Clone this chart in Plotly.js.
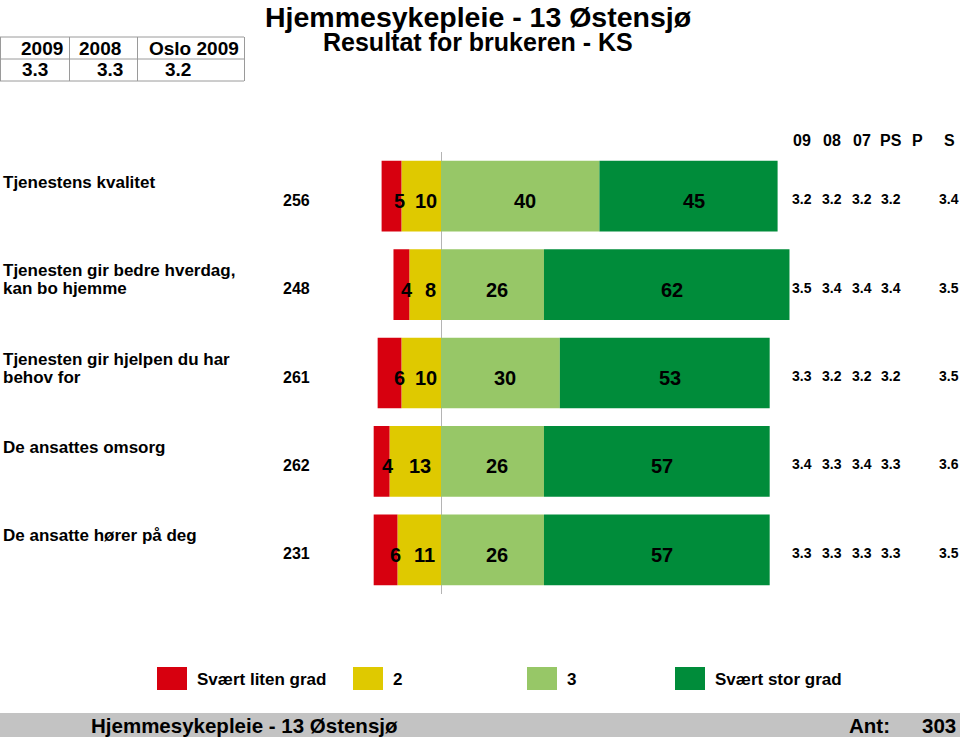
<!DOCTYPE html>
<html>
<head>
<meta charset="utf-8">
<script src="https://cdn.plot.ly/plotly-3.0.1.min.js"></script>
<style>
  body { margin: 0; background: #fff; }
  #chart { width: 960px; height: 737px; }
</style>
</head>
<body>
<div id="chart"></div>
<script>
// rows from top to bottom
var questions = ['Tjenestens kvalitet', 'Tjenesten gir bedre hverdag,<br>kan bo hjemme', 'Tjenesten gir hjelpen du har<br>behov for', 'De ansattes omsorg', 'De ansatte hører på deg'];
var answerCount = [256, 248, 261, 262, 231];

// percent for each answer level
var pctVeryLow = [5, 4, 6, 4, 6];
var pct2 = [10, 8, 10, 13, 11];
var pct3 = [40, 26, 30, 26, 26];
var pctVeryHigh = [45, 62, 53, 57, 57];
var legendNames = ['Svært liten grad', '2', '3', 'Svært stor grad'];

// averages shown in the columns to the right
var colHeaders = ['09', '08', '07', 'PS', 'P', 'S'];
var avg09 = ['3.2', '3.5', '3.3', '3.4', '3.3'];
var avg08 = ['3.2', '3.4', '3.2', '3.3', '3.3'];
var avg07 = ['3.2', '3.4', '3.2', '3.4', '3.3'];
var avgPS = ['3.2', '3.4', '3.2', '3.3', '3.3'];
var avgP = ['', '', '', '', ''];
var avgS = ['3.4', '3.5', '3.5', '3.6', '3.5'];

// little table in the top left corner
var tableHeaders = ['2009', '2008', 'Oslo 2009'];
var tableValues = ['3.3', '3.3', '3.2'];

var titleLine1 = 'Hjemmesykepleie - 13 Østensjø';
var titleLine2 = 'Resultat for brukeren - KS';
var footerName = 'Hjemmesykepleie - 13 Østensjø';
var totalAnt = 303;

var colors = ['#d7000f', '#dfc900', '#97c767', '#008c3a'];

// figure is 960x737 with no margins, so paper coords map straight to pixels
var W = 960, H = 737;
function px(x) { return x / W; }
function py(y) { return 1 - y / H; }

var FONT = 'Liberation Sans, Arial, Helvetica, sans-serif';
function txt(size) { return { family: FONT, size: size, color: '#000', weight: 'bold' }; }

var rows = questions.map(function (q, i) { return i; });

// negatives stack outward in trace order, so the yellow one goes first
function barTrace(vals, sign, color, name) {
    return {
        type: 'bar',
        orientation: 'h',
        name: name,
        x: vals.map(function (v) { return sign * v; }),
        y: rows,
        marker: { color: color, line: { width: 0 } },
        hoverinfo: 'skip',
        showlegend: false
    };
}

var data = [
    barTrace(pct2, -1, colors[1], legendNames[1]),
    barTrace(pctVeryLow, -1, colors[0], legendNames[0]),
    barTrace(pct3, 1, colors[2], legendNames[2]),
    barTrace(pctVeryHigh, 1, colors[3], legendNames[3])
];

var annotations = [];
function addNote(o) {
    o.showarrow = false;
    annotations.push(o);
}

// numbers on the bars
rows.forEach(function (i) {
    var segs = [
        { x: -pct2[i], t: pctVeryLow[i], dx: -2 },
        { x: -pct2[i] / 2, t: pct2[i], dx: 5 },
        { x: pct3[i] / 2, t: pct3[i], dx: 5 },
        { x: pct3[i] + pctVeryHigh[i] / 2, t: pctVeryHigh[i], dx: 5 }
    ];
    segs.forEach(function (s) {
        addNote({ xref: 'x', yref: 'y', x: s.x, y: i, text: String(s.t), xshift: s.dx, yshift: -5,
            font: txt(20), xanchor: 'center', yanchor: 'middle' });
    });

    // question text, one annotation per line to keep the lines tight
    questions[i].split('<br>').forEach(function (line, j) {
        addNote({ xref: 'paper', yref: 'y', x: px(1), y: i, text: line, xanchor: 'left', yanchor: 'middle',
            yshift: 14 - j * 18, font: txt(17) });
    });

    // number of answers
    addNote({ xref: 'paper', yref: 'y', x: px(312), y: i, text: String(answerCount[i]), xanchor: 'right',
        yanchor: 'middle', yshift: -4, font: txt(16) });
});

// columns on the right
var colX = [802, 832, 862, 891, 917, 949];
var columns = [avg09, avg08, avg07, avgPS, avgP, avgS];
colHeaders.forEach(function (h, c) {
    addNote({ xref: 'paper', yref: 'paper', x: px(colX[c]), y: py(140), text: h, xanchor: 'center',
        yanchor: 'middle', font: txt(16) });
    columns[c].forEach(function (v, i) {
        if (v === '') return;
        addNote({ xref: 'paper', yref: 'y', x: px(colX[c]), y: i, text: v, xanchor: 'center',
            yanchor: 'middle', yshift: -3, font: txt(14) });
    });
});

// titles
addNote({ xref: 'paper', yref: 'paper', x: px(478), y: py(17), text: titleLine1, xanchor: 'center', yanchor: 'middle', font: txt(28.5) });
addNote({ xref: 'paper', yref: 'paper', x: px(478), y: py(42), text: titleLine2, xanchor: 'center', yanchor: 'middle', font: txt(25) });

// top left table
var shapes = [];
var tableCols = [0, 69, 137, 244];
var tableRowsY = [37, 59, 81];
tableRowsY.forEach(function (y) {
    shapes.push({ type: 'line', xref: 'paper', yref: 'paper', x0: px(0), x1: px(244), y0: py(y), y1: py(y),
        line: { color: '#9a9a9a', width: 1 } });
});
tableCols.forEach(function (x) {
    shapes.push({ type: 'line', xref: 'paper', yref: 'paper', x0: px(x + 0.5), x1: px(x + 0.5), y0: py(37), y1: py(81),
        line: { color: '#9a9a9a', width: 1 } });
});
var headX = [42, 100, 194];
var valX = [35, 110, 178];
tableHeaders.forEach(function (h, c) {
    addNote({ xref: 'paper', yref: 'paper', x: px(headX[c]), y: py(48), text: h, xanchor: 'center', yanchor: 'middle', font: txt(19) });
    addNote({ xref: 'paper', yref: 'paper', x: px(valX[c]), y: py(69), text: tableValues[c], xanchor: 'center', yanchor: 'middle', font: txt(19) });
});

// legend drawn by hand to keep the original spacing
var legX = [157, 353, 527, 675];
legendNames.forEach(function (name, k) {
    shapes.push({ type: 'rect', xref: 'paper', yref: 'paper', x0: px(legX[k]), x1: px(legX[k] + 30),
        y0: py(690), y1: py(667), fillcolor: colors[k], line: { width: 0 } });
    addNote({ xref: 'paper', yref: 'paper', x: px(legX[k] + 38), y: py(679), text: name, xanchor: 'left', yanchor: 'middle', font: txt(17) });
});

// grey footer
shapes.push({ type: 'rect', xref: 'paper', yref: 'paper', x0: 0, x1: 1, y0: 0, y1: py(713),
    fillcolor: '#c3c3c3', line: { width: 0 }, layer: 'below' });
addNote({ xref: 'paper', yref: 'paper', x: px(89), y: py(725), text: footerName, xanchor: 'left', yanchor: 'middle', font: txt(20.5) });
addNote({ xref: 'paper', yref: 'paper', x: px(847), y: py(725), text: 'Ant:', xanchor: 'left', yanchor: 'middle', font: txt(20.5) });
addNote({ xref: 'paper', yref: 'paper', x: px(958), y: py(725), text: String(totalAnt), xanchor: 'right', yanchor: 'middle', font: txt(20.5) });

var pxPerUnit = 3.96;
var centerPx = 441;

var layout = {
    width: W,
    height: H,
    margin: { l: 0, r: 0, t: 0, b: 0, pad: 0 },
    paper_bgcolor: '#fff',
    plot_bgcolor: 'rgba(0,0,0,0)',
    barmode: 'relative',
    bargap: 0.2,
    showlegend: false,
    xaxis: {
        domain: [0, 1],
        range: [-centerPx / pxPerUnit, (W - centerPx) / pxPerUnit],
        showgrid: false,
        showticklabels: false,
        ticks: '',
        showline: false,
        zeroline: true,
        zerolinecolor: '#b4b4b4',
        zerolinewidth: 1,
        fixedrange: true
    },
    yaxis: {
        domain: [py(594), py(152)],
        range: [4.5, -0.5],
        showgrid: false,
        showticklabels: false,
        ticks: '',
        zeroline: false,
        showline: false,
        fixedrange: true
    },
    shapes: shapes,
    annotations: annotations
};

Plotly.newPlot('chart', data, layout, { displayModeBar: false, staticPlot: true });
</script>
</body>
</html>
